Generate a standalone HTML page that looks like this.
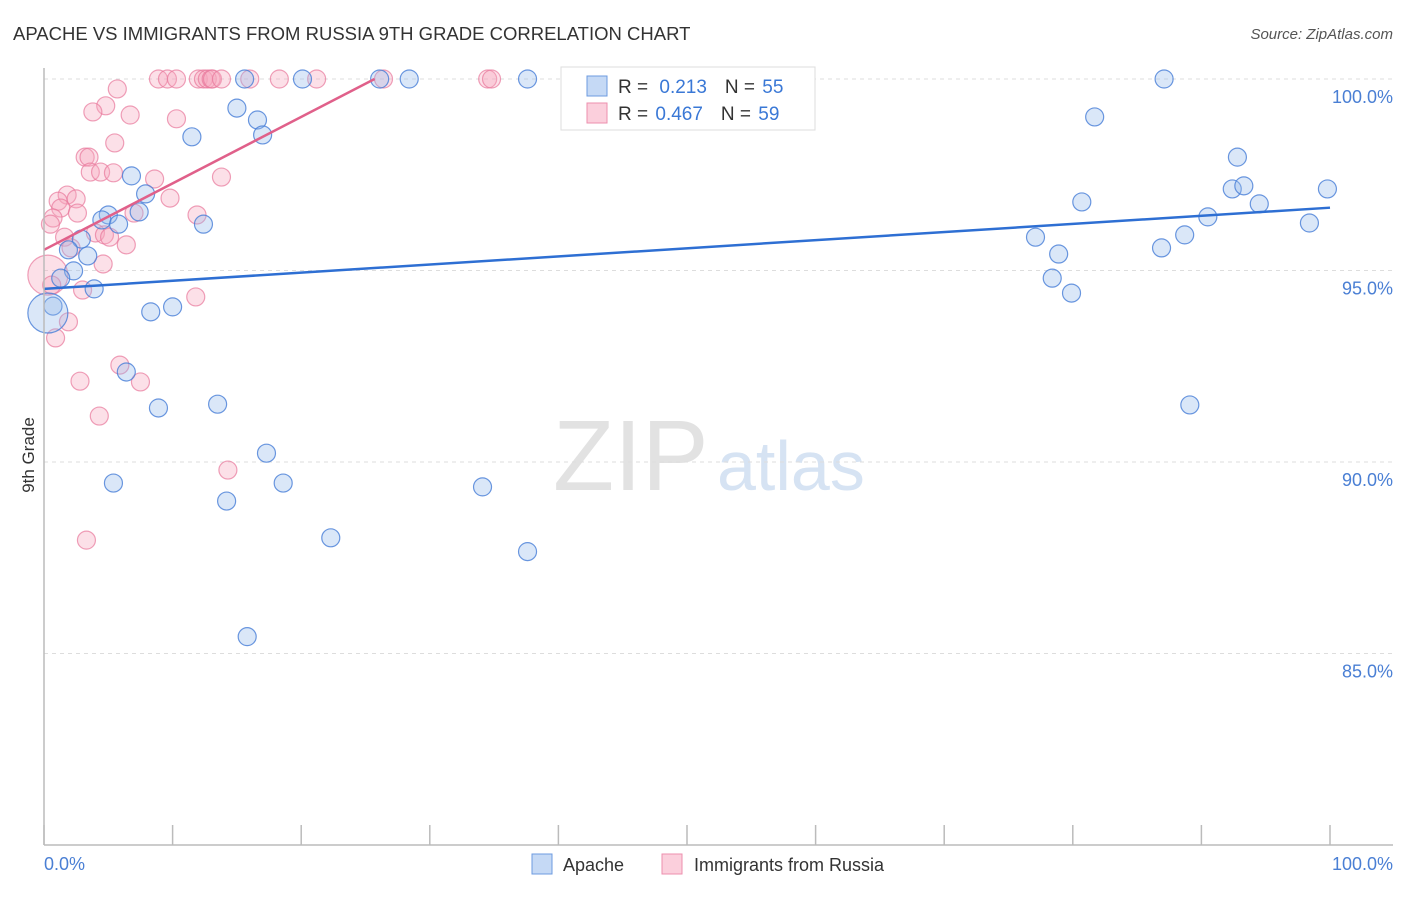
<!DOCTYPE html>
<html><head><meta charset="utf-8"><style>
body{margin:0;background:#fff;font-family:"Liberation Sans",sans-serif;}
svg text{font-family:"Liberation Sans",sans-serif;}
</style></head><body>
<svg id="chart" width="1406" height="892">
<text x="13" y="40" font-size="18.5" fill="#333">APACHE VS IMMIGRANTS FROM RUSSIA 9TH GRADE CORRELATION CHART</text>
<text x="1393" y="39" font-size="15" fill="#555" font-style="italic" text-anchor="end">Source: ZipAtlas.com</text>
<text x="553" y="490" font-size="100" fill="#e2e2e2" font-family="Liberation Serif,serif">ZIP</text>
<text x="717" y="490" font-size="70" fill="#d6e3f3">atlas</text>
<text transform="translate(34,455) rotate(-90)" font-size="17" fill="#333" text-anchor="middle">9th Grade</text>
<g id="grid"></g><g id="pts"></g><g id="trend"></g>
<line x1="44" y1="68" x2="44" y2="845" stroke="#bbb" stroke-width="1.5"/>
<line x1="44" y1="845" x2="1393" y2="845" stroke="#bbb" stroke-width="1.5"/>
<g id="xticks"></g>
<text x="44" y="870" font-size="18" fill="#4a7fd4">0.0%</text>
<text x="1393" y="870" font-size="18" fill="#4a7fd4" text-anchor="end">100.0%</text>
<g>
<rect x="561" y="67" width="254" height="63" fill="#fff" stroke="#ddd"/>
<rect x="587" y="76" width="20" height="20" fill="#c5d9f5" stroke="#6d9be0"/>
<rect x="587" y="103" width="20" height="20" fill="#fbcfdc" stroke="#ec8fae"/>
<text x="618" y="93" font-size="19" fill="#333">R = <tspan fill="#3a78d6" dx="6">0.213</tspan><tspan fill="#333" dx="18">N = </tspan><tspan fill="#3a78d6" dx="2">55</tspan></text>
<text x="618" y="120" font-size="19" fill="#333">R = <tspan fill="#3a78d6" dx="2">0.467</tspan><tspan fill="#333" dx="18">N = </tspan><tspan fill="#3a78d6" dx="2">59</tspan></text>
</g>
<rect x="532" y="854" width="20" height="20" fill="#c5d9f5" stroke="#6d9be0"/>
<text x="563" y="871" font-size="18" fill="#333">Apache</text>
<rect x="662" y="854" width="20" height="20" fill="#fbcfdc" stroke="#ec8fae"/>
<text x="694" y="871" font-size="18" fill="#333">Immigrants from Russia</text>
</svg>
<script>
const yTicks=[100,95,90,85];
const yTickLabels=["100.0%","95.0%","90.0%","85.0%"];
const xTickVals=[0,10,20,30,40,50,60,70,80,90,100];
const apacheX=[15.6,20.1,26.1,28.4,37.6,87.1,15.0,11.5,16.6,17.0,81.7,92.8,92.4,93.3,94.5,99.8,80.7,90.5,98.4,77.1,88.7,86.9,78.9,78.4,79.9,89.1,6.8,7.9,7.4,5.0,4.5,5.8,12.4,2.9,1.9,3.4,2.3,1.3,3.9,0.7,0.3,8.3,10.0,6.4,8.9,13.5,17.3,5.4,18.6,14.2,34.1,22.3,37.6,15.8];
const apacheY=[100,100,100,100,100,100,99.24,98.49,98.93,98.54,99.01,97.96,97.13,97.21,96.74,97.13,96.79,96.40,96.24,95.87,95.93,95.59,95.43,94.80,94.41,91.49,97.47,97.0,96.53,96.45,96.32,96.21,96.21,95.82,95.54,95.38,94.99,94.80,94.52,94.07,93.89,93.92,94.05,92.35,91.41,91.51,90.23,89.45,89.45,88.98,89.35,88.02,87.66,85.44];
const apacheBig=[40];
const russiaX=[8.9,9.6,10.3,12.0,12.4,12.7,13.0,13.1,13.8,16.0,18.3,21.2,26.4,34.5,34.8,5.7,4.8,3.8,6.7,10.3,5.5,3.2,3.5,3.6,4.4,5.4,8.6,13.8,1.8,1.1,2.5,1.3,0.7,0.5,2.6,7.0,9.8,11.9,1.6,4.0,4.7,5.1,6.4,2.1,4.6,0.3,0.6,3.0,11.8,1.9,0.9,5.9,7.5,2.8,4.3,14.3,3.3];
const russiaY=[100,100,100,100,100,100,100,100,100,100,100,100,100,100,100,99.74,99.3,99.14,99.06,98.96,98.33,97.96,97.96,97.57,97.57,97.55,97.39,97.44,96.97,96.81,96.87,96.63,96.37,96.21,96.5,96.5,96.89,96.45,95.87,95.98,95.93,95.87,95.67,95.59,95.17,94.88,94.62,94.49,94.31,93.66,93.24,92.53,92.09,92.11,91.2,89.79,87.96];
const russiaBig=[45];
const apacheTrend=[94.52,96.64];
const russiaTrend=[95.54,0.1735];
const NS="http://www.w3.org/2000/svg";
const sx=v=>44+v*12.86;
const sy=v=>79+(100-v)*38.3;
function mk(t,a,p){const e=document.createElementNS(NS,t);for(const k in a)e.setAttribute(k,a[k]);p.appendChild(e);return e;}
const grid=document.getElementById('grid');
yTicks.forEach((t,i)=>{
 const l=mk('line',{x1:44,x2:1393,y1:sy(t),y2:sy(t),stroke:'#ddd','stroke-dasharray':'4,4'},grid);
 
 
 const tx=mk('text',{x:1393,y:sy(t)+24,'font-size':18,fill:'#4a7fd4','text-anchor':'end'},grid);
 tx.textContent=yTickLabels[i];
 
 
});
const xt=document.getElementById('xticks');
xTickVals.forEach(v=>{
 const l=mk('line',{x1:sx(v),x2:sx(v),y1:825,y2:845,stroke:'#bbb','stroke-width':1.5},xt);
 
 
});
const pts=document.getElementById('pts');
function draw(X,Y,big,fill,stroke,name){
 X.forEach((x,i)=>{
  const c=mk('circle',{cx:sx(x),cy:sy(Y[i]),r:big.includes(i)?20:9,fill:fill,stroke:stroke,'stroke-width':1.2},pts);
  
  
 });
}
draw(russiaX,russiaY,russiaBig,'rgba(246,165,190,0.35)','rgba(232,120,155,0.7)','russia-point');
draw(apacheX,apacheY,apacheBig,'rgba(150,185,235,0.35)','rgba(70,125,215,0.8)','apache-point');
const tr=document.getElementById('trend');
const bl=mk('line',{x1:sx(0),y1:sy(apacheTrend[0]),x2:sx(100),y2:sy(apacheTrend[1]),stroke:'#2e6fd3','stroke-width':2.5},tr);


const xe=(100-russiaTrend[0])/russiaTrend[1];
const pl=mk('line',{x1:sx(0),y1:sy(russiaTrend[0]),x2:sx(xe),y2:sy(100),stroke:'#e0608a','stroke-width':2.5},tr);


</script>
</body></html>
